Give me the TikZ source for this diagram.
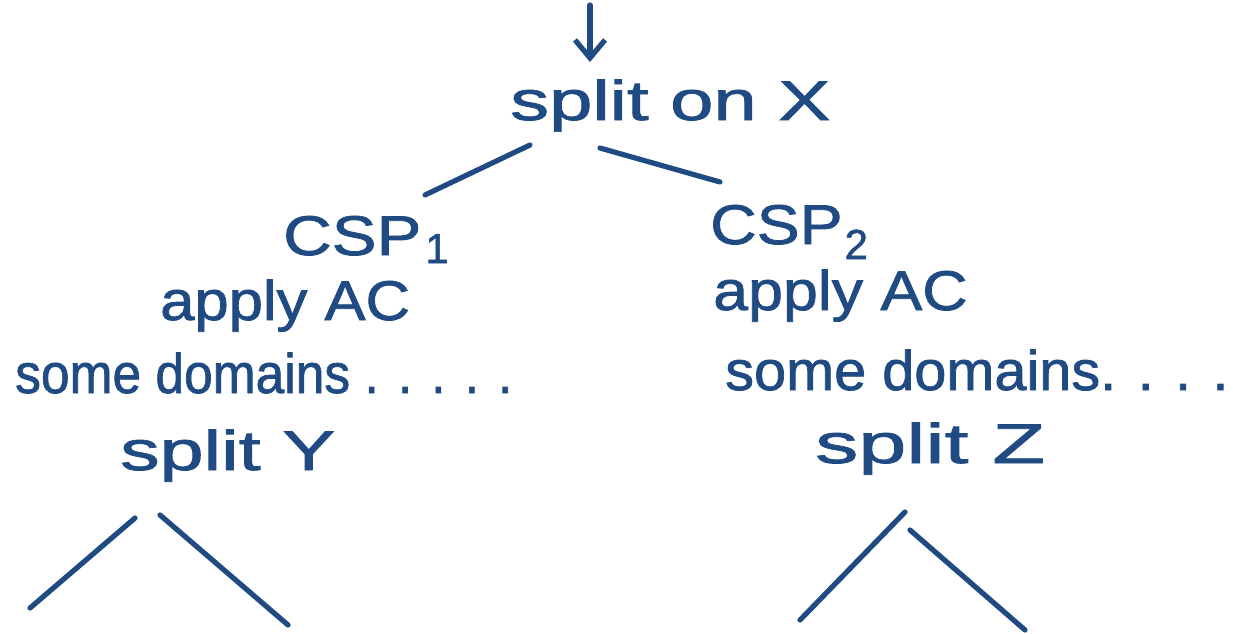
\documentclass[tikz,border=0pt]{standalone}
\usepackage{fontspec}
\setmainfont{Liberation Sans}[FakeBold=1.3]
\usetikzlibrary{arrows.meta}
\definecolor{ink}{HTML}{1F4A82}
% horizontally stretched handwriting-sized text
\newcommand{\hw}[2]{\scalebox{#1}[1]{#2}}
% lowered index digit
\newcommand{\idx}[2]{\raisebox{-#1}{\fontsize{42}{44}\selectfont #2}}
\begin{document}
\begin{tikzpicture}[x=1pt,y=-1pt,
  pen/.style={draw=ink,line width=5.2pt,line cap=round,line join=round},
  word/.style={text=ink,inner sep=0pt,anchor=base west,
    font=\fontsize{56}{60}\selectfont}]
\useasboundingbox (0,0) rectangle (1233,633);

% top-level split
\node[word] (splitx) at (510,120) {\hw{1.39}{split on X}};
\coordinate (in) at (590,5);
\coordinate (tip) at (590,62);
\draw[pen,-{Straight Barb[length=18pt,width=30pt]}] (in) -- (tip);

% first branching
\coordinate (xl1) at (530,145);
\coordinate (xl2) at (425,195);
\coordinate (xr1) at (600,148);
\coordinate (xr2) at (720,182);
\draw[pen] (xl1) -- (xl2);
\draw[pen] (xr1) -- (xr2);

% left subproblem
\node[word] (csp1) at (283,255) {\hw{1.2}{CSP}\kern4pt\idx{8pt}{1}};
\node[word] (ac1) at (160,320) {\hw{1.1}{apply AC}};
\node[word] (dom1) at (15,393) {\hw{0.92}{some domains . . . . .}};
\node[word] (splity) at (120,470) {\hw{1.41}{split Y}};

% right subproblem
\node[word] (csp2) at (710,244) {\hw{1.15}{CSP}\kern2pt\idx{15pt}{2}};
\node[word] (ac2) at (713,310) {\hw{1.12}{apply AC}};
\node[word] (dom2) at (725,390) {\hw{1.03}{some domains. . . .}};
\node[word] (splitz) at (815,463) {\hw{1.54}{split Z}};

% further branching under Y
\coordinate (yl1) at (135,518);
\coordinate (yl2) at (30,608);
\coordinate (yr1) at (160,515);
\coordinate (yr2) at (288,625);
\draw[pen] (yl1) -- (yl2);
\draw[pen] (yr1) -- (yr2);

% further branching under Z
\coordinate (zl1) at (905,512);
\coordinate (zl2) at (800,620);
\coordinate (zr1) at (910,530);
\coordinate (zr2) at (1025,630);
\draw[pen] (zl1) -- (zl2);
\draw[pen] (zr1) -- (zr2);
\end{tikzpicture}
\end{document}
